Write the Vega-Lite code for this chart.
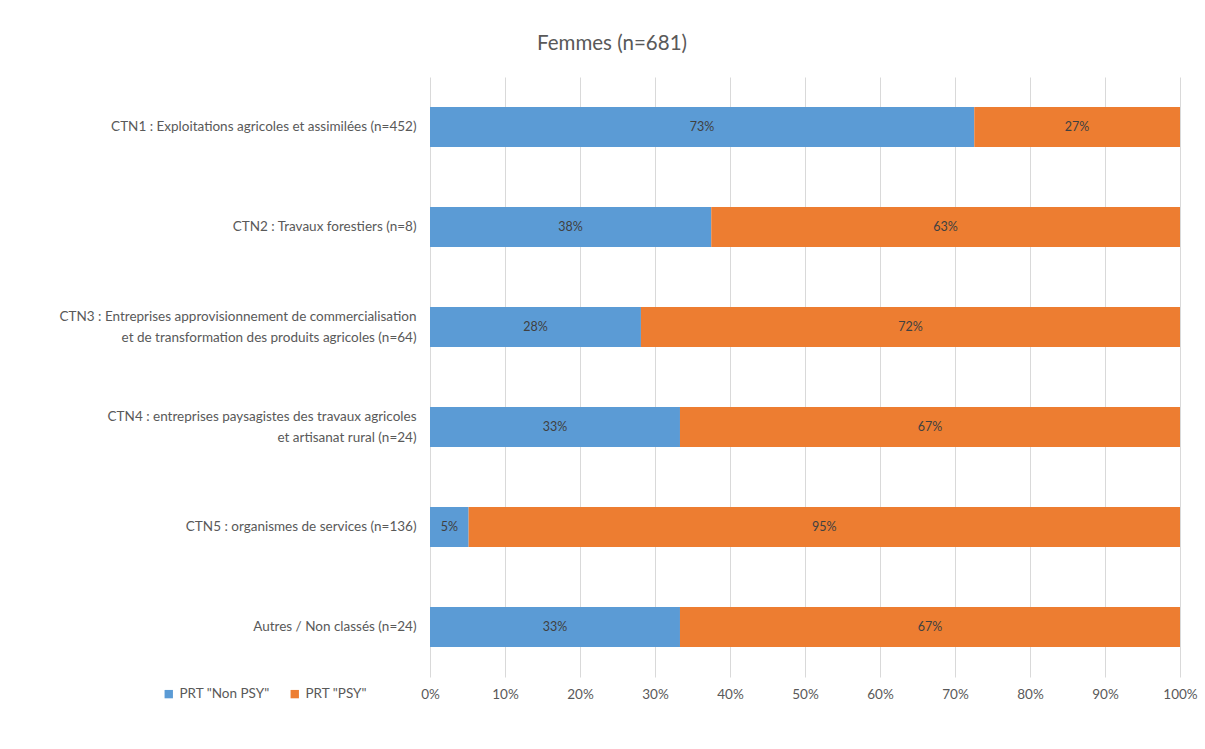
{
  "$schema": "https://vega.github.io/schema/vega-lite/v6.json",
  "autosize": {"type": "none"},
  "width": 750,
  "height": 600,
  "padding": {"left": 430, "top": 77, "right": 25, "bottom": 72},
  "background": "white",
  "title": {
    "text": "Femmes (n=681)",
    "fontSize": 20.5,
    "font": "Lato",
    "fontWeight": "normal",
    "color": "#595959",
    "anchor": "middle",
    "dx": -193,
    "offset": 23
  },
  "config": {
    "view": {"stroke": null},
    "font": "Lato"
  },
  "data": {
    "values": [
      {"cat": "CTN1 : Exploitations agricoles et assimilées (n=452)", "serie": "PRT \"Non PSY\"", "order": 1, "value": 0.7257, "label": "73%"},
      {"cat": "CTN1 : Exploitations agricoles et assimilées (n=452)", "serie": "PRT \"PSY\"", "order": 2, "value": 0.2743, "label": "27%"},
      {"cat": "CTN2 : Travaux forestiers (n=8)", "serie": "PRT \"Non PSY\"", "order": 1, "value": 0.375, "label": "38%"},
      {"cat": "CTN2 : Travaux forestiers (n=8)", "serie": "PRT \"PSY\"", "order": 2, "value": 0.625, "label": "63%"},
      {"cat": "CTN3 :  Entreprises approvisionnement de commercialisation|et de transformation des produits agricoles  (n=64)", "serie": "PRT \"Non PSY\"", "order": 1, "value": 0.28125, "label": "28%"},
      {"cat": "CTN3 :  Entreprises approvisionnement de commercialisation|et de transformation des produits agricoles  (n=64)", "serie": "PRT \"PSY\"", "order": 2, "value": 0.71875, "label": "72%"},
      {"cat": "CTN4 : entreprises paysagistes des travaux agricoles|et artisanat rural (n=24)", "serie": "PRT \"Non PSY\"", "order": 1, "value": 0.3333, "label": "33%"},
      {"cat": "CTN4 : entreprises paysagistes des travaux agricoles|et artisanat rural (n=24)", "serie": "PRT \"PSY\"", "order": 2, "value": 0.6667, "label": "67%"},
      {"cat": "CTN5 : organismes de services (n=136)", "serie": "PRT \"Non PSY\"", "order": 1, "value": 0.0515, "label": "5%"},
      {"cat": "CTN5 : organismes de services (n=136)", "serie": "PRT \"PSY\"", "order": 2, "value": 0.9485, "label": "95%"},
      {"cat": "Autres / Non classés (n=24)", "serie": "PRT \"Non PSY\"", "order": 1, "value": 0.3333, "label": "33%"},
      {"cat": "Autres / Non classés (n=24)", "serie": "PRT \"PSY\"", "order": 2, "value": 0.6667, "label": "67%"}
    ]
  },
  "transform": [
    {"stack": "value", "groupby": ["cat"], "sort": [{"field": "order"}], "as": ["v0", "v1"]},
    {"calculate": "(datum.v0 + datum.v1) / 2", "as": "mid"}
  ],
  "encoding": {
    "y": {
      "field": "cat",
      "type": "nominal",
      "sort": null,
      "scale": {"paddingInner": 0.6, "paddingOuter": 0.3},
      "axis": {
        "title": null,
        "domain": false,
        "ticks": false,
        "labelExpr": "split(datum.value, '|')",
        "labelFontSize": 13.5,
        "labelColor": "#595959",
        "labelPadding": 14,
        "labelLineHeight": 21,
        "labelLimit": 500,
        "labelOffset": {"condition": {"test": "indexof(datum.value, '|') >= 0", "value": -10.5}, "value": 0}
      }
    }
  },
  "layer": [
    {
      "mark": {"type": "bar"},
      "encoding": {
        "x": {
          "field": "v0",
          "type": "quantitative",
          "scale": {"domain": [0, 1], "nice": false},
          "axis": {
            "title": null,
            "format": ".0%",
            "values": [0, 0.1, 0.2, 0.3, 0.4, 0.5, 0.6, 0.7, 0.8, 0.9, 1],
            "domain": false,
            "ticks": false,
            "grid": true,
            "gridColor": "#d9d9d9",
            "gridWidth": 1,
            "labelFlush": false,
            "labelFontSize": 13.5,
            "labelColor": "#595959",
            "labelPadding": 10
          }
        },
        "x2": {"field": "v1"},
        "color": {
          "field": "serie",
          "type": "nominal",
          "sort": null,
          "scale": {"domain": ["PRT \"Non PSY\"", "PRT \"PSY\""], "range": ["#5B9BD5", "#ED7D31"]},
          "legend": {
            "title": null,
            "orient": "none",
            "direction": "horizontal",
            "legendX": -268,
            "legendY": 610,
            "symbolType": "square",
            "symbolSize": 70,
            "symbolStrokeWidth": 0,
            "labelFontSize": 13.5,
            "labelColor": "#595959",
            "columnPadding": 18,
            "labelOffset": 4
          }
        }
      }
    },
    {
      "mark": {"type": "text", "fontSize": 12.5, "color": "#404040"},
      "encoding": {
        "x": {"field": "mid", "type": "quantitative"},
        "text": {"field": "label", "type": "nominal"}
      }
    }
  ]
}
